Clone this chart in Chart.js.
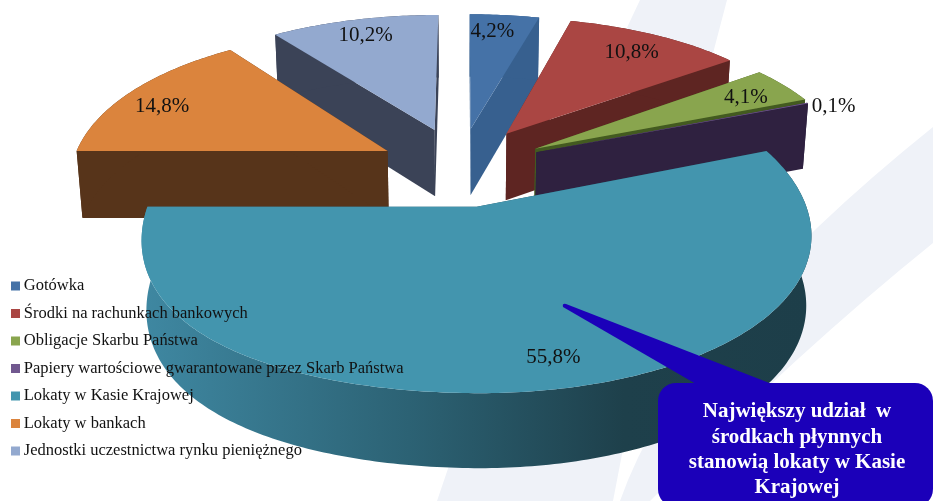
<!DOCTYPE html>
<html>
<head>
<meta charset="utf-8">
<title>Struktura środków płynnych</title>
<script src="https://cdn.jsdelivr.net/npm/chart.js@4/dist/chart.umd.js"></script>
<style>
  html, body { margin: 0; padding: 0; background: #fff; }
  #wrap { width: 933px; height: 501px; overflow: hidden; }
</style>
</head>
<body>
<div id="wrap"><canvas id="chart" width="933" height="501"></canvas></div>
<script>
var labels = ['Gotówka', 'Środki na rachunkach bankowych', 'Obligacje Skarbu Państwa',
	'Papiery wartościowe gwarantowane przez Skarb Państwa', 'Lokaty w Kasie Krajowej',
	'Lokaty w bankach', 'Jednostki uczestnictwa rynku pieniężnego'];
var percents = [4.2, 10.8, 4.1, 0.1, 55.8, 14.8, 10.2];
var calloutLines = ['Największy udział  w', 'środkach płynnych', 'stanowią lokaty w Kasie', 'Krajowej'];

var colors = ['#4572A7', '#AA4643', '#89A54E', '#71588F', '#4395AE', '#DB843D', '#93A9CF'];
var sideColors = ['#37608F', '#5E2522', '#435A20', '#2F2140', null, '#57341A', '#3B4357'];
var explode = [44, 44, 41.5, 40, 33, 42, 45];
var explodeTurn = [-3, -6, -5, -8, 0, 3, 0];
var labelNudge = [[-6, -3], [3, 0], [9, 1], [78, -6], [20, 8], [-19, 5], [-3, -4]];

var WORLD_R = 318, HORIZON = -490;

// ground plane to screen, y stays linear in the perspective scale
function project(el, px, py) {
	var k = WORLD_R / el.outerRadius;
	var u = (px - el.x) * k, v = (py - el.y) * k;
	var g = 0.00074 * v + (v < 0 ? -0.5e-7 : -2.4e-7) * v * v;
	var s = 1 / (1 - g);
	var grow = 1 + 0.7 * (s - 1);
	// the front left of the reference swells more than the front right
	if (u < 0 && s > 1) grow = 1 + 0.6 * (s - 1) + 1.4 * (s - 1) * (s - 1);
	return { x: el.x + u * grow, y: HORIZON + (el.y - HORIZON) * s };
}

function drop(el, p) {
	return { x: el.x + (p.x - el.x) * 0.985, y: p.y + 62 + 0.033 * p.y };
}

function sliceOrigin(el, i) {
	var dir = (el.startAngle + el.endAngle) / 2 + explodeTurn[i] * Math.PI / 180;
	return { x: el.x + Math.cos(dir) * el.options.offset, y: el.y + Math.sin(dir) * el.options.offset };
}

function outline(el, i) {
	var o = sliceOrigin(el, i);
	var pts = [project(el, o.x, o.y)];
	var n = Math.max(2, Math.ceil((el.endAngle - el.startAngle) / 0.015));
	for (var j = 0; j <= n; j++) {
		var a = el.startAngle + (el.endAngle - el.startAngle) * j / n;
		pts.push(project(el, o.x + Math.cos(a) * el.outerRadius, o.y + Math.sin(a) * el.outerRadius));
	}
	return pts;
}

function poly(ctx, pts) {
	ctx.beginPath();
	pts.forEach(function(p, i) { i ? ctx.lineTo(p.x, p.y) : ctx.moveTo(p.x, p.y); });
	ctx.closePath();
}

function drawBackdrop(ctx) {
	ctx.fillStyle = '#EFF2F8';
	ctx.beginPath();
	ctx.moveTo(437, 501);
	ctx.quadraticCurveTo(520, 250, 640, 0);
	ctx.lineTo(727, 0);
	ctx.quadraticCurveTo(660, 250, 613, 501);
	ctx.closePath();
	ctx.fill();
	ctx.beginPath();
	ctx.moveTo(620, 501);
	ctx.quadraticCurveTo(680, 330, 933, 127);
	ctx.lineTo(933, 243);
	ctx.quadraticCurveTo(800, 350, 650, 501);
	ctx.closePath();
	ctx.fill();
}

var pie3d = {
	id: 'pie3d',
	beforeDraw: function(chart) {
		var ctx = chart.ctx, arcs = chart.getDatasetMeta(0).data;
		drawBackdrop(ctx);

		var lg = chart.legend;
		lg.left = 4.5; lg.right = 450; lg.top = 266.75; lg.bottom = 480;

		var order = arcs.map(function(el, i) { return { el: el, i: i, pts: outline(el, i) }; });
		order.sort(function(a, b) { return a.pts[0].y - b.pts[0].y; });
		order.forEach(function(s) {
			var pts = s.pts, fill = sideColors[s.i], last = pts.length - 1;
			if (!fill) {
				fill = ctx.createLinearGradient(140, 0, 812, 0);
				fill.addColorStop(0, '#3F88A2');
				fill.addColorStop(0.4, '#2C6274');
				fill.addColorStop(0.72, '#1E404B');
				fill.addColorStop(1, '#1D3E49');
			}
			ctx.fillStyle = fill;
			// the two cut walls, then the rim as one strip
			poly(ctx, [pts[0], pts[1], drop(s.el, pts[1]), drop(s.el, pts[0])]);
			ctx.fill();
			poly(ctx, [pts[0], pts[last], drop(s.el, pts[last]), drop(s.el, pts[0])]);
			ctx.fill();
			var rim = pts.slice(1);
			poly(ctx, rim.concat(rim.slice().reverse().map(function(p) { return drop(s.el, p); })));
			ctx.fill();

			ctx.fillStyle = colors[s.i];
			poly(ctx, pts);
			ctx.fill();
		});
	},
	beforeDatasetsDraw: function() { return false; },
	afterDraw: function(chart) {
		var ctx = chart.ctx, arcs = chart.getDatasetMeta(0).data;
		ctx.save();
		ctx.font = '21px "Liberation Serif"';
		ctx.fillStyle = '#111';
		ctx.textAlign = 'center';
		ctx.textBaseline = 'middle';
		arcs.forEach(function(el, i) {
			var mid = (el.startAngle + el.endAngle) / 2, o = sliceOrigin(el, i), r = el.outerRadius * 0.8;
			var p = project(el, o.x + Math.cos(mid) * r, o.y + Math.sin(mid) * r);
			ctx.fillText(percents[i].toFixed(1).replace('.', ',') + '%', p.x + labelNudge[i][0], p.y + labelNudge[i][1]);
		});

		// callout box with its wedge
		ctx.fillStyle = '#1B00B9';
		ctx.beginPath();
		ctx.roundRect(658, 383, 275, 124, 18);
		ctx.fill();
		ctx.beginPath();
		ctx.moveTo(696, 384);
		ctx.lineTo(563, 307);
		ctx.quadraticCurveTo(562, 303, 566, 304);
		ctx.lineTo(772, 384);
		ctx.closePath();
		ctx.fill();

		ctx.fillStyle = '#fff';
		ctx.font = 'bold 21px "Liberation Serif"';
		calloutLines.forEach(function(t, i) {
			ctx.fillText(t, 797, 412 + i * 25.3);
		});
		ctx.restore();
	}
};

var chart = new Chart(document.getElementById('chart'), {
	type: 'pie',
	data: {
		labels: labels,
		datasets: [{
			data: percents,
			backgroundColor: colors,
			borderWidth: 0,
			offset: explode
		}]
	},
	options: {
		responsive: false,
		animation: false,
		layout: { padding: { bottom: 157, right: 6 } },
		plugins: {
			tooltip: { enabled: false },
			legend: {
				position: 'chartArea',
				align: 'start',
				labels: {
					usePointStyle: true,
					pointStyle: 'rect',
					boxWidth: 0.01,
					boxHeight: 9,
					padding: 11,
					color: '#111',
					font: { family: '"Liberation Serif"', size: 16.5 }
				}
			}
		}
	},
	plugins: [pie3d]
});
</script>
</body>
</html>
